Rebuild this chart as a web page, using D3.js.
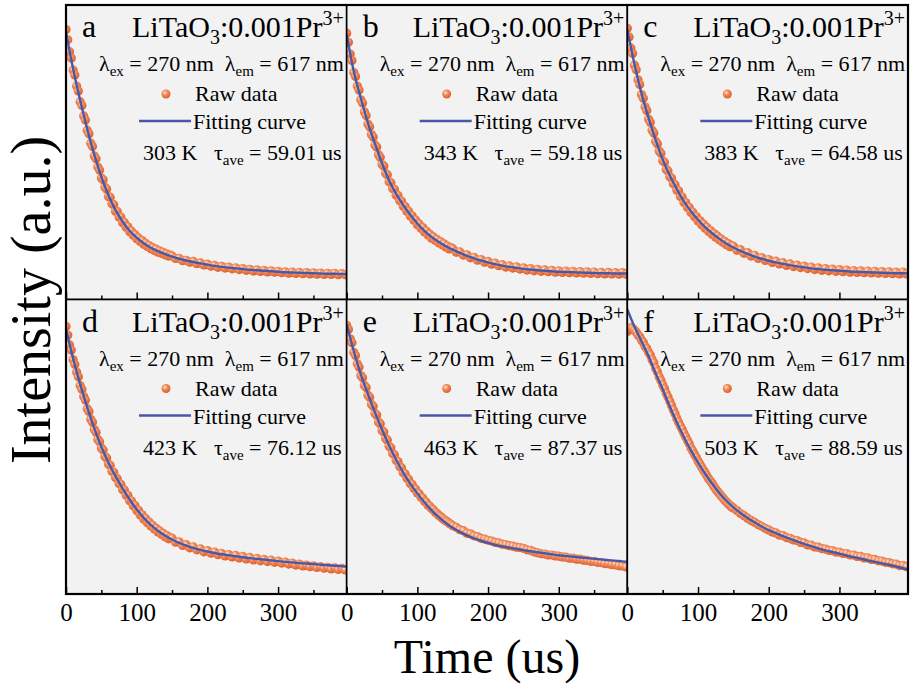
<!DOCTYPE html>
<html>
<head>
<meta charset="utf-8">
<script src="https://cdn.jsdelivr.net/npm/d3@7"></script>
<style>
  body { margin: 0; background: #fff; }
  text { font-family: "Liberation Serif", "Times New Roman", serif; fill: #000; }
</style>
</head>
<body>
<svg id="chart" width="910" height="688"></svg>
<script>
// panel labels and annotations
const panelLetters = ['a', 'b', 'c', 'd', 'e', 'f']
const temps = ['303', '343', '383', '423', '463', '503']
const tauAve = ['59.01', '59.18', '64.58', '76.12', '87.37', '88.59']

const xTicks = [0, 100, 200, 300]
const xMinorTicks = [50, 150, 250, 350]

// time (us) of raw points (denser where the decay is steep) and fit samples
const rawTime = [0, 2.5, 5, 7.5, 10, 12.5, 15, 17.5, 20, 22.5, 25, 27.5, 30, 32.5, 35, 37.5, 40, 42.5, 45, 47.5,
  50, 52.5, 55, 57.5, 60, 62.5, 65, 67.5, 70, 72.5, 75, 77.5, 80, 82.5, 85, 87.5, 90, 92.5, 95, 97.5,
  100, 102.5, 105, 107.5, 110, 112.5, 115, 117.5, 120, 122.5, 125, 127.5, 130, 132.5, 135, 137.5, 140, 142.5, 145, 147.5,
  150, 155, 160, 165, 170, 175, 180, 185, 190, 195, 200, 205, 210, 215, 220, 225, 230, 235, 240, 245,
  250, 255, 260, 265, 270, 275, 280, 285, 290, 295, 300, 305, 310, 315, 320, 325, 330, 335, 340, 345,
  350, 355, 360, 365, 370, 375, 380, 385, 390, 395]
const fitTime = [0, 10, 20, 30, 40, 50, 60, 70, 80, 90, 100, 110, 120, 130, 140, 150, 160, 170, 180, 190,
  200, 210, 220, 230, 240, 250, 260, 270, 280, 290, 300, 310, 320, 330, 340, 350, 360, 370, 380, 390, 400]

// normalised intensity
const rawA = [1.0, 0.958, 0.91, 0.884, 0.835, 0.815, 0.77, 0.75, 0.706, 0.69,
  0.648, 0.631, 0.59, 0.575, 0.537, 0.523, 0.485, 0.474, 0.44, 0.428,
  0.395, 0.388, 0.357, 0.35, 0.32, 0.316, 0.29, 0.286, 0.26, 0.259,
  0.236, 0.236, 0.213, 0.214, 0.194, 0.196, 0.176, 0.179, 0.162, 0.164,
  0.148, 0.151, 0.136, 0.14, 0.125, 0.129, 0.116, 0.12, 0.107, 0.111,
  0.1, 0.105, 0.093, 0.098, 0.088, 0.092, 0.082, 0.086, 0.077, 0.081,
  0.077, 0.067, 0.068, 0.058, 0.06, 0.052, 0.055, 0.046, 0.049, 0.041,
  0.044, 0.036, 0.039, 0.031, 0.035, 0.028, 0.032, 0.025, 0.029, 0.022,
  0.026, 0.019, 0.023, 0.016, 0.021, 0.014, 0.019, 0.012, 0.017, 0.011,
  0.015, 0.009, 0.013, 0.007, 0.012, 0.006, 0.011, 0.005, 0.01, 0.004,
  0.009, 0.003, 0.008, 0.002, 0.007, 0.002, 0.007, 0.001, 0.006, 0.001]
const rawB = [0.985, 0.948, 0.9, 0.874, 0.825, 0.809, 0.77, 0.754, 0.714, 0.701,
  0.665, 0.65, 0.615, 0.604, 0.572, 0.562, 0.53, 0.521, 0.49, 0.48,
  0.45, 0.444, 0.414, 0.408, 0.38, 0.376, 0.352, 0.349, 0.325, 0.324,
  0.302, 0.301, 0.28, 0.28, 0.26, 0.26, 0.24, 0.241, 0.223, 0.224,
  0.205, 0.208, 0.19, 0.193, 0.175, 0.179, 0.163, 0.166, 0.15, 0.155,
  0.141, 0.145, 0.131, 0.136, 0.123, 0.127, 0.114, 0.118, 0.106, 0.111,
  0.107, 0.093, 0.094, 0.081, 0.082, 0.07, 0.072, 0.06, 0.063, 0.052,
  0.055, 0.044, 0.048, 0.038, 0.042, 0.032, 0.037, 0.028, 0.033, 0.024,
  0.029, 0.02, 0.026, 0.017, 0.023, 0.015, 0.021, 0.013, 0.019, 0.011,
  0.017, 0.01, 0.016, 0.009, 0.015, 0.008, 0.014, 0.007, 0.013, 0.006,
  0.012, 0.005, 0.011, 0.004, 0.011, 0.004, 0.01, 0.003, 0.01, 0.003]
const rawC = [1.005, 0.97, 0.925, 0.902, 0.855, 0.836, 0.795, 0.776, 0.735, 0.72,
  0.685, 0.67, 0.635, 0.622, 0.59, 0.578, 0.545, 0.535, 0.505, 0.496,
  0.465, 0.459, 0.43, 0.424, 0.4, 0.395, 0.372, 0.368, 0.345, 0.343,
  0.32, 0.318, 0.295, 0.295, 0.275, 0.275, 0.255, 0.256, 0.237, 0.238,
  0.22, 0.222, 0.205, 0.208, 0.19, 0.194, 0.177, 0.181, 0.165, 0.169,
  0.154, 0.158, 0.143, 0.147, 0.133, 0.137, 0.123, 0.128, 0.115, 0.12,
  0.117, 0.101, 0.103, 0.088, 0.091, 0.077, 0.08, 0.067, 0.071, 0.059,
  0.063, 0.051, 0.056, 0.045, 0.05, 0.039, 0.045, 0.034, 0.04, 0.03,
  0.036, 0.026, 0.032, 0.022, 0.029, 0.019, 0.026, 0.017, 0.024, 0.015,
  0.022, 0.013, 0.02, 0.011, 0.018, 0.01, 0.017, 0.009, 0.016, 0.008,
  0.015, 0.007, 0.014, 0.006, 0.013, 0.005, 0.012, 0.004, 0.012, 0.004]
const rawD = [0.99, 0.955, 0.915, 0.894, 0.855, 0.836, 0.805, 0.785, 0.75, 0.734,
  0.705, 0.69, 0.655, 0.644, 0.612, 0.6, 0.57, 0.559, 0.53, 0.52,
  0.495, 0.487, 0.46, 0.454, 0.43, 0.424, 0.4, 0.396, 0.375, 0.37,
  0.35, 0.347, 0.325, 0.324, 0.302, 0.302, 0.28, 0.28, 0.26, 0.261,
  0.24, 0.241, 0.222, 0.224, 0.205, 0.208, 0.19, 0.193, 0.177, 0.18,
  0.165, 0.168, 0.153, 0.157, 0.143, 0.147, 0.133, 0.138, 0.125, 0.13,
  0.127, 0.111, 0.113, 0.098, 0.101, 0.088, 0.092, 0.08, 0.084, 0.072,
  0.077, 0.066, 0.071, 0.06, 0.066, 0.055, 0.061, 0.051, 0.057, 0.047,
  0.053, 0.043, 0.049, 0.039, 0.045, 0.035, 0.041, 0.032, 0.038, 0.029,
  0.034, 0.026, 0.03, 0.022, 0.026, 0.018, 0.022, 0.014, 0.018, 0.011,
  0.015, 0.008, 0.012, 0.005, 0.009, 0.002, 0.007, 0.0, 0.005, -0.002]
const rawE = [0.995, 0.978, 0.94, 0.924, 0.885, 0.872, 0.838, 0.825, 0.79, 0.781,
  0.75, 0.741, 0.71, 0.702, 0.673, 0.665, 0.636, 0.629, 0.601, 0.594,
  0.566, 0.56, 0.534, 0.527, 0.502, 0.496, 0.473, 0.467, 0.445, 0.44,
  0.42, 0.414, 0.394, 0.39, 0.373, 0.368, 0.35, 0.347, 0.331, 0.327,
  0.312, 0.308, 0.295, 0.291, 0.278, 0.274, 0.262, 0.258, 0.248, 0.243,
  0.234, 0.229, 0.221, 0.216, 0.21, 0.204, 0.198, 0.194, 0.188, 0.184,
  0.178, 0.172, 0.162, 0.158, 0.148, 0.145, 0.137, 0.134, 0.127, 0.124,
  0.119, 0.116, 0.11, 0.108, 0.103, 0.101, 0.097, 0.095, 0.091, 0.089,
  0.086, 0.08, 0.078, 0.072, 0.068, 0.064, 0.063, 0.059, 0.059, 0.055,
  0.054, 0.051, 0.05, 0.046, 0.046, 0.042, 0.042, 0.038, 0.037, 0.033,
  0.033, 0.029, 0.028, 0.024, 0.023, 0.02, 0.019, 0.015, 0.014, 0.01]
const rawF = [0.97, 0.978, 0.985, 0.982, 0.975, 0.968, 0.955, 0.948, 0.935, 0.926,
  0.91, 0.9, 0.885, 0.874, 0.855, 0.842, 0.82, 0.806, 0.785, 0.77,
  0.752, 0.737, 0.718, 0.703, 0.685, 0.668, 0.65, 0.634, 0.615, 0.6,
  0.585, 0.571, 0.555, 0.541, 0.525, 0.512, 0.495, 0.483, 0.468, 0.457,
  0.442, 0.43, 0.417, 0.405, 0.394, 0.382, 0.37, 0.36, 0.35, 0.338,
  0.328, 0.318, 0.31, 0.3, 0.292, 0.283, 0.276, 0.268, 0.262, 0.255,
  0.25, 0.24, 0.228, 0.219, 0.209, 0.2, 0.192, 0.183, 0.176, 0.168,
  0.161, 0.153, 0.149, 0.14, 0.138, 0.13, 0.127, 0.12, 0.118, 0.11,
  0.108, 0.1, 0.099, 0.092, 0.091, 0.085, 0.083, 0.078, 0.077, 0.071,
  0.071, 0.065, 0.065, 0.059, 0.059, 0.053, 0.053, 0.047, 0.047, 0.041,
  0.041, 0.035, 0.034, 0.029, 0.028, 0.023, 0.022, 0.016, 0.016, 0.011]

const fitA = [0.99, 0.84, 0.712, 0.595, 0.49, 0.40, 0.325, 0.265, 0.218, 0.18,
  0.152, 0.129, 0.111, 0.097, 0.085, 0.075, 0.066, 0.059, 0.053, 0.047,
  0.042, 0.037, 0.033, 0.030, 0.027, 0.024, 0.021, 0.019, 0.017, 0.015,
  0.013, 0.011, 0.010, 0.009, 0.008, 0.007, 0.006, 0.005, 0.005, 0.004, 0.004]
const fitB = [0.98, 0.83, 0.72, 0.62, 0.535, 0.455, 0.385, 0.33, 0.285, 0.245,
  0.21, 0.18, 0.155, 0.135, 0.118, 0.103, 0.09, 0.078, 0.068, 0.059,
  0.051, 0.044, 0.038, 0.033, 0.029, 0.025, 0.022, 0.019, 0.017, 0.015,
  0.013, 0.012, 0.011, 0.010, 0.009, 0.008, 0.007, 0.007, 0.006, 0.006, 0.006]
const fitC = [1.0, 0.86, 0.74, 0.64, 0.55, 0.47, 0.405, 0.35, 0.30, 0.26,
  0.225, 0.195, 0.17, 0.148, 0.128, 0.112, 0.098, 0.086, 0.075, 0.066,
  0.058, 0.051, 0.045, 0.040, 0.035, 0.031, 0.027, 0.024, 0.021, 0.019,
  0.017, 0.015, 0.013, 0.012, 0.011, 0.010, 0.009, 0.008, 0.007, 0.007, 0.006]
const fitD = [0.98, 0.86, 0.755, 0.66, 0.575, 0.5, 0.435, 0.38, 0.33, 0.285,
  0.245, 0.21, 0.182, 0.158, 0.138, 0.122, 0.108, 0.097, 0.088, 0.080,
  0.073, 0.067, 0.062, 0.058, 0.054, 0.050, 0.046, 0.043, 0.040, 0.037,
  0.034, 0.031, 0.029, 0.026, 0.024, 0.022, 0.019, 0.017, 0.015, 0.013, 0.011]
const fitE = [1.0, 0.89, 0.795, 0.715, 0.64, 0.57, 0.505, 0.447, 0.395, 0.35,
  0.31, 0.274, 0.242, 0.214, 0.19, 0.17, 0.153, 0.139, 0.127, 0.117,
  0.108, 0.1, 0.094, 0.089, 0.084, 0.079, 0.074, 0.07, 0.066, 0.062,
  0.058, 0.055, 0.052, 0.049, 0.046, 0.043, 0.041, 0.038, 0.036, 0.033, 0.031]
const fitF = [1.06, 0.99, 0.93, 0.87, 0.80, 0.735, 0.665, 0.60, 0.54, 0.485,
  0.435, 0.39, 0.35, 0.312, 0.28, 0.253, 0.23, 0.21, 0.192, 0.175,
  0.16, 0.148, 0.136, 0.125, 0.114, 0.104, 0.095, 0.086, 0.078, 0.071,
  0.064, 0.057, 0.050, 0.044, 0.037, 0.031, 0.025, 0.019, 0.012, 0.005, -0.002]

const rawSeries = [rawA, rawB, rawC, rawD, rawE, rawF]
const fitSeries = [fitA, fitB, fitC, fitD, fitE, fitF]

const blue = '#4858a8'

const frame = { left: 66, right: 908, top: 5, bottom: 594 }
const colW = (frame.right - frame.left) / 3
const rowH = (frame.bottom - frame.top) / 2

const svg = d3.select('#chart')

const x = d3.scaleLinear().domain([0, 397]).range([0, colW])
const y = d3.scaleLinear().domain([-0.1, 1.1]).range([rowH, 0])

const line = d3.line()
  .x(d => x(d[0]))
  .y(d => y(d[1]))
  .curve(d3.curveMonotoneX)

const defs = svg.append('defs')
const ball = defs.append('radialGradient')
  .attr('id', 'ball')
  .attr('cx', '38%').attr('cy', '35%').attr('r', '65%')
ball.append('stop').attr('offset', '0%').attr('stop-color', '#fde2d2')
ball.append('stop').attr('offset', '45%').attr('stop-color', '#ef8858')
ball.append('stop').attr('offset', '100%').attr('stop-color', '#df5f2c')

defs.append('clipPath').attr('id', 'panel-clip')
  .append('rect').attr('width', colW).attr('height', rowH)

panelLetters.forEach(function(letter, i) {
  const col = i % 3
  const row = Math.floor(i / 3)
  const g = svg.append('g')
    .attr('transform', `translate(${frame.left + col * colW},${frame.top + row * rowH})`)

  g.append('rect')
    .attr('width', colW)
    .attr('height', rowH)
    .attr('fill', '#f2f2f2')

  const plot = g.append('g').attr('clip-path', 'url(#panel-clip)')

  const raw = rawTime.map((t, j) => [t, rawSeries[i][j]])
  plot.selectAll('circle')
    .data(raw)
    .enter()
    .append('circle')
    .attr('cx', d => x(d[0]))
    .attr('cy', d => y(d[1]))
    .attr('r', 4.6)
    .attr('fill', 'url(#ball)')

  const fit = fitTime.map((t, j) => [t, fitSeries[i][j]])
  plot.append('path')
    .datum(fit)
    .attr('d', line)
    .attr('fill', 'none')
    .attr('stroke', blue)
    .attr('stroke-width', 2.4)

  // ticks on the bottom edge, pointing in
  const major = d3.axisBottom(x)
    .tickValues(xTicks)
    .tickSizeInner(-7)
    .tickSizeOuter(0)
    .tickPadding(9)
  if (row === 0) major.tickFormat(() => '')
  const minor = d3.axisBottom(x)
    .tickValues(xMinorTicks)
    .tickSizeInner(-4)
    .tickSizeOuter(0)
    .tickFormat(() => '')

  g.append('g')
    .attr('transform', `translate(0,${rowH})`)
    .call(major)
    .call(s => s.select('.domain').remove())
    .call(s => s.selectAll('line').attr('stroke-width', 1.5))
    .call(s => s.selectAll('text')
      .style('font-family', '"Liberation Serif", "Times New Roman", serif')
      .style('font-size', '25px'))
  g.append('g')
    .attr('transform', `translate(0,${rowH})`)
    .call(minor)
    .call(s => s.select('.domain').remove())
    .call(s => s.selectAll('line').attr('stroke-width', 1.5))

  g.append('rect')
    .attr('width', colW)
    .attr('height', rowH)
    .attr('fill', 'none')
    .attr('stroke', '#000')
    .attr('stroke-width', 1.6)

  // annotations
  g.append('text')
    .attr('x', 16).attr('y', 32)
    .style('font-size', '32px')
    .text(letter)

  const title = g.append('text')
    .attr('x', 66).attr('y', 32)
    .style('font-size', '30px')
  title.append('tspan').text('LiTaO')
  title.append('tspan').attr('dy', 7).style('font-size', '20px').text('3')
  title.append('tspan').attr('dy', -7).text(':0.001Pr')
  title.append('tspan').attr('dy', -12).style('font-size', '20px').text('3+')

  const lam = g.append('text')
    .attr('x', 33).attr('y', 66)
    .style('font-size', '22px')
  lam.append('tspan').text('λ')
  lam.append('tspan').attr('dy', 5).style('font-size', '15px').text('ex')
  lam.append('tspan').attr('dy', -5).text(' = 270 nm\u00a0\u00a0λ')
  lam.append('tspan').attr('dy', 5).style('font-size', '15px').text('em')
  lam.append('tspan').attr('dy', -5).text(' = 617 nm')

  g.append('circle')
    .attr('cx', 100).attr('cy', 89)
    .attr('r', 4.5)
    .attr('fill', 'url(#ball)')
  g.append('text')
    .attr('x', 129).attr('y', 96)
    .style('font-size', '22px')
    .text('Raw data')

  g.append('line')
    .attr('x1', 73).attr('x2', 125)
    .attr('y1', 116).attr('y2', 116)
    .attr('stroke', blue)
    .attr('stroke-width', 2.4)
  g.append('text')
    .attr('x', 127).attr('y', 124)
    .style('font-size', '22px')
    .text('Fitting curve')

  const tau = g.append('text')
    .attr('x', 77).attr('y', 155)
    .style('font-size', '22px')
  tau.append('tspan').text(temps[i] + ' K\u00a0\u00a0\u00a0τ')
  tau.append('tspan').attr('dy', 5).style('font-size', '15px').text('ave')
  tau.append('tspan').attr('dy', -5).text(' = ' + tauAve[i] + ' us')
})

svg.append('rect')
  .attr('x', frame.left).attr('y', frame.top)
  .attr('width', frame.right - frame.left).attr('height', frame.bottom - frame.top)
  .attr('fill', 'none')
  .attr('stroke', '#000')
  .attr('stroke-width', 2.2)

svg.append('text')
  .attr('x', 487).attr('y', 673)
  .attr('text-anchor', 'middle')
  .style('font-size', '48px')
  .text('Time (us)')

svg.append('text')
  .attr('transform', 'translate(50,300) rotate(-90)')
  .attr('text-anchor', 'middle')
  .style('font-size', '56px')
  .text('Intensity (a.u.)')
</script>
</body>
</html>
